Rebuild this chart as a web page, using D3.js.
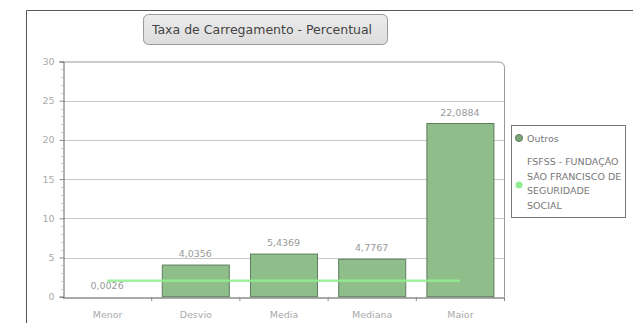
<!DOCTYPE html>
<html>
<head>
<meta charset="utf-8">
<script src="https://cdn.jsdelivr.net/npm/d3@7"></script>
<style>
  html, body { margin: 0; padding: 0; background: #ffffff; }
  svg { display: block; }
</style>
</head>
<body>
<script>
// Statistics of the loading rate (Taxa de Carregamento)
const categories = ["Menor", "Desvio", "Media", "Mediana", "Maior"];
const outrosValues = [0.0026, 4.0356, 5.4369, 4.7767, 22.0884];
const outrosLabels = ["0,0026", "4,0356", "5,4369", "4,7767", "22,0884"];
const fsfssValues = [2.04, 2.04, 2.04, 2.04, 2.04];
const yTicks = [0, 5, 10, 15, 20, 25, 30];
const seriesNames = ["Outros", "FSFSS - FUNDAÇÃO SÃO FRANCISCO DE SEGURIDADE SOCIAL"];
const legendLines = [["Outros"], ["FSFSS - FUNDAÇÃO", "SÃO FRANCISCO DE", "SEGURIDADE", "SOCIAL"]];
const chartTitle = "Taxa de Carregamento - Percentual";

const W = 637, H = 332;
const font = "'DejaVu Sans', Verdana, sans-serif";
const svg = d3.select("body").append("svg").attr("width", W).attr("height", H);

// outer frame (top and left edges)
svg.append("path")
  .attr("d", "M26.5,323 V10.5 H633")
  .attr("fill", "none").attr("stroke", "#555").attr("stroke-width", 1);

const plot = { left: 63, right: 504, top: 61.5, bottom: 296.7 };

const x = d3.scaleBand().domain(categories).range([plot.left, plot.right]).paddingInner(0.24).paddingOuter(0.12);
const xc = d3.scalePoint().domain(categories).range([plot.left, plot.right]).padding(0.5);
const y = d3.scaleLinear().domain([0, 30]).range([plot.bottom, plot.top]);

// plot border (top and right, rounded top-right corner)
const r = 6;
svg.append("path")
  .attr("d", `M${plot.left},${plot.top + 0.5} H${plot.right - r} Q${plot.right + 0.5},${plot.top + 0.5} ${plot.right + 0.5},${plot.top + r} V${plot.bottom}`)
  .attr("fill", "none").attr("stroke", "#999").attr("stroke-width", 1);

// horizontal gridlines
svg.append("g").selectAll("line").data(yTicks.filter(d => d > 0 && d < 30)).join("line")
  .attr("x1", plot.left).attr("x2", plot.right)
  .attr("y1", d => Math.round(y(d)) + 0.5).attr("y2", d => Math.round(y(d)) + 0.5)
  .attr("stroke", "#c8c8c8").attr("stroke-width", 1);

// bars (outline only when the bar is tall enough to show)
svg.append("g").selectAll("rect").data(categories).join("rect")
  .attr("x", d => x(d) + 0.5)
  .attr("y", (d, i) => y(outrosValues[i]))
  .attr("width", x.bandwidth())
  .attr("height", (d, i) => plot.bottom - y(outrosValues[i]))
  .attr("fill", "#8fbe8b")
  .attr("stroke", (d, i) => (plot.bottom - y(outrosValues[i])) > 1 ? "#5d7d5d" : "none")
  .attr("stroke-width", 1);

// value labels
svg.append("g").selectAll("text").data(categories).join("text")
  .attr("x", d => xc(d))
  .attr("y", (d, i) => y(outrosValues[i]) - 8)
  .attr("text-anchor", "middle")
  .attr("font-family", font).attr("font-size", 9.5)
  .attr("fill", "#999")
  .text((d, i) => outrosLabels[i]);

// FSFSS line
svg.append("path")
  .datum(fsfssValues)
  .attr("d", d3.line().x((d, i) => xc(categories[i])).y(d => y(d)))
  .attr("fill", "none").attr("stroke", "#90ee90").attr("stroke-width", 2.5).attr("opacity", 0.85);

// y axis
const yAxis = svg.append("g").attr("transform", `translate(${plot.left + 0.5},0)`)
  .call(d3.axisLeft(y).tickValues(yTicks).tickSize(4).tickPadding(5).tickFormat(d3.format("d")));
yAxis.select(".domain").attr("stroke", "#666");
yAxis.selectAll(".tick line").attr("stroke", "#888");
yAxis.selectAll("text").attr("font-family", font).attr("font-size", 9.5).attr("fill", "#aaa");
// minor ticks
svg.append("g").selectAll("line").data(d3.range(0, 31).filter(d => d % 5 !== 0)).join("line")
  .attr("x1", plot.left - 1.5).attr("x2", plot.left + 0.5)
  .attr("y1", d => Math.round(y(d)) + 0.5).attr("y2", d => Math.round(y(d)) + 0.5)
  .attr("stroke", "#bbb");

// x axis
const xAxis = svg.append("g").attr("transform", `translate(0,${Math.round(plot.bottom) + 0.5})`)
  .call(d3.axisBottom(xc).tickSize(0).tickPadding(14));
xAxis.select(".domain").attr("stroke", "#555").attr("d", `M${plot.left},0.5H${plot.right + 1}`);
xAxis.selectAll("text").attr("font-family", font).attr("font-size", 9.5).attr("fill", "#aaa");
// category boundary ticks
svg.append("g").selectAll("line").data(d3.range(1, categories.length + 1)).join("line")
  .attr("x1", i => plot.left + i * x.step() + 0.5).attr("x2", i => plot.left + i * x.step() + 0.5)
  .attr("y1", Math.round(plot.bottom)).attr("y2", Math.round(plot.bottom) + 4)
  .attr("stroke", "#888");

// title box
const tb = svg.append("g");
const grad = svg.append("defs").append("linearGradient").attr("id", "tg").attr("x1", 0).attr("y1", 0).attr("x2", 0).attr("y2", 1);
grad.append("stop").attr("offset", 0).attr("stop-color", "#ececec");
grad.append("stop").attr("offset", 1).attr("stop-color", "#dcdcdc");
tb.append("rect").attr("x", 143.5).attr("y", 14.5).attr("width", 244).attr("height", 30).attr("rx", 5)
  .attr("fill", "url(#tg)").attr("stroke", "#999");
tb.append("text").attr("x", 262).attr("y", 34).attr("text-anchor", "middle")
  .attr("font-family", font).attr("font-size", 12.5).attr("fill", "#444").text(chartTitle);

// legend
const lg = svg.append("g");
lg.append("rect").attr("x", 511.5).attr("y", 125.5).attr("width", 114).attr("height", 92)
  .attr("fill", "#fff").attr("stroke", "#777");
lg.append("circle").attr("cx", 519).attr("cy", 138).attr("r", 3.5).attr("fill", "#7aa77a").attr("stroke", "#5a7a5a");
lg.append("circle").attr("cx", 519).attr("cy", 185).attr("r", 3.5).attr("fill", "#90ee90");
lg.append("text").attr("x", 527).attr("y", 141.5)
  .attr("font-family", font).attr("font-size", 9.5).attr("fill", "#777").text(legendLines[0][0]);
lg.append("g").selectAll("text").data(legendLines[1]).join("text")
  .attr("x", 527).attr("y", (d, i) => 165 + i * 14.5)
  .attr("font-family", font).attr("font-size", 9.5).attr("fill", "#777").text(d => d);
</script>
</body>
</html>
